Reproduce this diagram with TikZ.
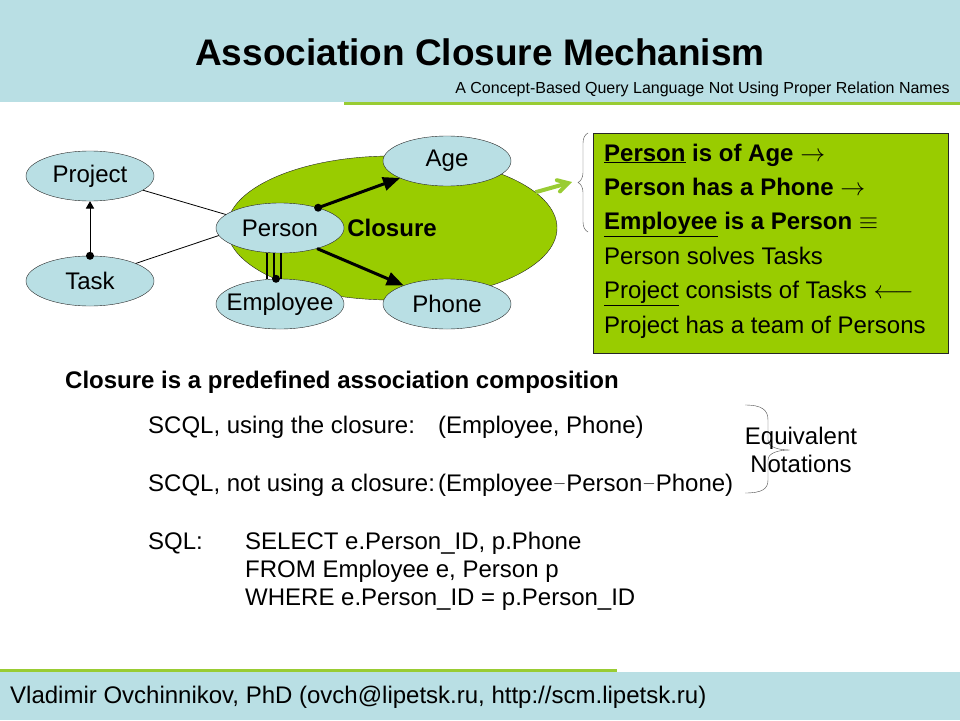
\documentclass[tikz,border=0pt]{standalone}
\usepackage{fontspec}
\setmainfont{Liberation Sans}
\usepackage{tikz}
\usetikzlibrary{shapes.geometric, arrows, decorations.pathreplacing}
\definecolor{bandblue}{RGB}{185,223,228}
\definecolor{leafgreen}{RGB}{153,204,0}
\definecolor{linegreen}{RGB}{153,204,51}
\newcommand{\bodyfont}{\fontsize{24}{28}\selectfont}
\newcommand{\cname}[1]{\makebox[0pt]{#1}}
\newcommand{\smallminus}{\raisebox{2.5pt}{\fontsize{17}{20}\selectfont$-$}}
\tikzstyle{concept} = [ellipse, minimum width=128pt, minimum height=50pt, inner sep=0pt, draw=black!85, fill=bandblue, font=\bodyfont]
\tikzstyle{closurezone} = [ellipse, minimum width=330pt, minimum height=144pt, draw=black!85, fill=leafgreen, font=\bodyfont\bfseries]
\tikzstyle{rulebox} = [rectangle, anchor=north west, minimum width=355pt, minimum height=220pt, draw=black!85, fill=leafgreen]
\tikzstyle{textline} = [anchor=base west, inner sep=0pt, font=\bodyfont]
\tikzstyle{link} = [line width=0.8pt]
\tikzstyle{arrow} = [line width=1pt,->,>=triangle 60]
\tikzstyle{boldarrow} = [line width=3pt,->,>=triangle 45]
\tikzstyle{greenarrow} = [line width=4pt, draw=linegreen, ->,>=angle 60]

\begin{document}
\begin{tikzpicture}[x=1pt, y=-1pt]
    \useasboundingbox (0,0) rectangle (960,720);
    % header and footer bands
    \fill [bandblue] (0,0) rectangle (960,102);
    \fill [linegreen] (344,102) rectangle (960,105);
    \fill [linegreen] (0,669) rectangle (617,672);
    \fill [bandblue] (0,672) rectangle (960,720);
    \node (title) [anchor=base, font=\fontsize{37}{40}\selectfont\bfseries] at (480,65) {Association Closure Mechanism};
    \node (subtitle) [anchor=base east, inner sep=0pt, font=\fontsize{16}{18}\selectfont] at (950,93) {A Concept-Based Query Language Not Using Proper Relation Names};
    % concept diagram
    \node (closure) [closurezone] at (392,228) {Closure};
    \node (project) [concept] at (90,176) {\cname{Project}};
    \node (task) [concept] at (90,281) {\cname{Task}};
    \node (person) [concept] at (280,228) {\cname{Person}};
    \node (employee) [concept] at (280,304) {\cname{Employee}};
    \node (age) [concept] at (447,161) {\cname{Age}};
    \node (phone) [concept] at (447,304) {\cname{Phone}};
    \draw [link] (project.-15) -- (person.166);
    \draw [link] (task.21) -- (person.187);
    \draw [arrow] (task.north) -- (project.south);
    \fill (task.north) circle (4pt);
    \draw [boldarrow] (person.28) -- (age);
    \fill (person.28) circle (4pt);
    \draw [boldarrow] (person.-29) -- (phone);
    \draw [line width=2.5pt] ([xshift=-13pt]person.south) -- ([xshift=-13pt]employee.north);
    \draw [line width=2.5pt] ([xshift=-6pt]person.south) -- ([xshift=-6pt]employee.north);
    \draw [line width=2.5pt] ([xshift=1pt]person.south) -- ([xshift=1pt]employee.north);
    \fill ([xshift=-4pt]employee.north) circle (4pt);
    % associations of the closure
    \coordinate (bracetip) at (572,182);
    \draw [greenarrow] (closure.14) -- (bracetip);
    \draw [black!70, decorate, decoration={brace, amplitude=10pt}] (588,232) -- (588,133);
    \node (rules) [rulebox] at (593,133) {};
    \node (isage) [textline] at (604,161) {\textbf{\underline{Person} is of Age} $\rightarrow$};
    \node (hasphone) [textline] at (604,195.4) {\textbf{Person has a Phone} $\rightarrow$};
    \node (isperson) [textline] at (604,229.8) {\textbf{\underline{Employee} is a Person} $\equiv$};
    \node (solves) [textline] at (604,264.2) {Person solves Tasks};
    \node (consists) [textline] at (604,298.6) {\underline{Project} consists of Tasks $\longleftarrow$};
    \node (team) [textline] at (604,333) {Project has a team of Persons};
    % notations
    \node (definition) [textline, font=\bodyfont\bfseries] at (65,388) {Closure is a predefined association composition};
    \node (withlabel) [textline] at (148,433) {SCQL, using the closure:};
    \node (withquery) [textline] at (438,433) {(Employee, Phone)};
    \node (withoutlabel) [textline] at (148,491) {SCQL, not using a closure:};
    \node (withoutquery) [textline] at (438,491) {(Employee\smallminus Person\smallminus Phone)};
    \node (sqllabel) [textline] at (148,549) {SQL:};
    \node (sqlselect) [textline] at (245,549) {SELECT e.Person\_ID, p.Phone};
    \node (sqlfrom) [textline] at (245,577) {FROM Employee e, Person p};
    \node (sqlwhere) [textline] at (245,605) {WHERE e.Person\_ID = p.Person\_ID};
    \draw [black!70] (745,405) .. controls (762,405) and (768,410) .. (768,420) -- (768,440)
        .. controls (768,447) and (778,450) .. (790,450)
        .. controls (778,450) and (768,453) .. (768,460) -- (768,480)
        .. controls (768,489) and (762,493) .. (745,493);
    \node (equivalent) [anchor=base, inner sep=0pt, font=\bodyfont] at (801,444) {Equivalent};
    \node (notations) [anchor=base, inner sep=0pt, font=\bodyfont] at (801,472) {Notations};
    % footer
    \node (author) [textline] at (10,703) {Vladimir Ovchinnikov, PhD (ovch@lipetsk.ru, http://scm.lipetsk.ru)};
\end{tikzpicture}
\end{document}
